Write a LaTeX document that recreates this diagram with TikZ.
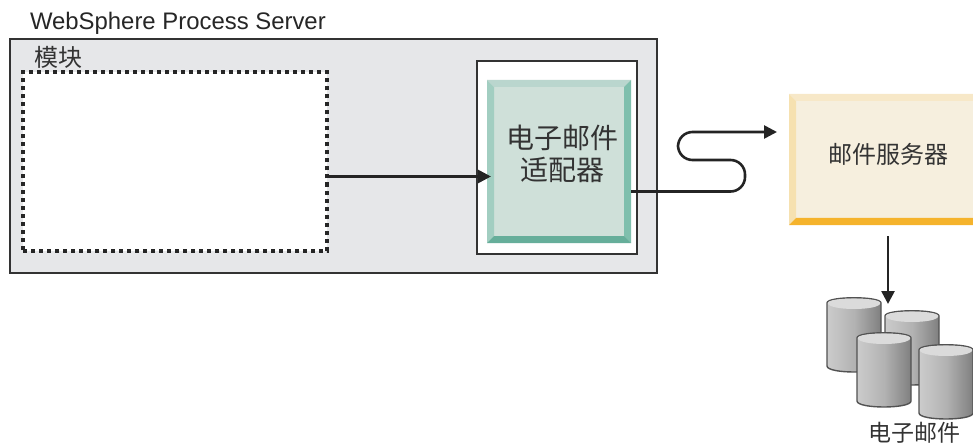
\documentclass[tikz,border=0pt]{standalone}
\usepackage{fontspec}
\setmainfont{Liberation Sans}
\newfontfamily\cjk{Noto Sans CJK SC}
\usetikzlibrary{arrows.meta, positioning}

\definecolor{servergray}{HTML}{E6E7E9}
\definecolor{linegray}{HTML}{333333}
\definecolor{adapterface}{HTML}{CFE0D9}
\definecolor{adaptertop}{HTML}{BAD6CE}
\definecolor{adapterleft}{HTML}{A2CEC1}
\definecolor{adapterright}{HTML}{7FBFAD}
\definecolor{adapterbottom}{HTML}{66AE9A}
\definecolor{mailface}{HTML}{F6EFDE}
\definecolor{mailtop}{HTML}{F7E8C8}
\definecolor{mailleft}{HTML}{F6E1B0}
\definecolor{mailbottom}{HTML}{F5B32C}

% sides of a raised box: node, left, top, right, bottom
\newcommand{\bevelsides}[5]{
	\fill[#2] (#1.north west) -- (#1.south west) -- ([shift={(7,-7)}]#1.south west) -- ([shift={(7,7)}]#1.north west) -- cycle;
	\fill[#3] (#1.north west) -- (#1.north east) -- ([shift={(-7,7)}]#1.north east) -- ([shift={(7,7)}]#1.north west) -- cycle;
	\fill[#4] (#1.north east) -- (#1.south east) -- ([shift={(-7,-7)}]#1.south east) -- ([shift={(-7,7)}]#1.north east) -- cycle;
	\fill[#5] (#1.south west) -- (#1.south east) -- ([shift={(-7,-7)}]#1.south east) -- ([shift={(7,-7)}]#1.south west) -- cycle;
}

\begin{document}
\begin{tikzpicture}[x=1pt, y=-1pt]
	\tikzset{
		>={Triangle[length=13pt, width=13pt]},
		flow/.style={->, line width=2.6pt, draw=linegray!70!black, color=linegray!70!black},
		box/.style={inner sep=0pt, outer sep=0pt},
		cjktext/.style={font=\cjk\fontsize{24pt}{32pt}\selectfont, text=linegray, inner sep=0pt},
		dbcyl/.pic={
			\draw[line width=1.4pt, draw=linegray!85, left color=black!20, right color=black!50, middle color=black!30]
				(-27,5) -- (-27,68) .. controls (-27,76) and (27,76) .. (27,68) -- (27,5)
				.. controls (27,-2) and (-27,-2) .. (-27,5) -- cycle;
			\fill[black!14] (-26.3,5) .. controls (-26,-1) and (26,-1) .. (26.3,5) .. controls (26,13) and (-26,13) .. (-26.3,5) -- cycle;
		}
	}
	\clip (0,0) rectangle (973,446);

	\node[box, draw=linegray, line width=2pt, fill=servergray, minimum width=647pt, minimum height=234pt] (server) at (333.5,156) {};
	\node[above right=5pt and 20pt of server.north west, box, font=\fontsize{23.9pt}{28pt}\selectfont, text=black!85] (title) {WebSphere Process Server};

	\node[box, draw=black!85, line width=4pt, dash pattern=on 4pt off 4pt, fill=white, minimum width=304pt, minimum height=178pt] (module) at (175,161.5) {};
	\node[cjktext] (modulelabel) at (58,57) {模块};

	\node[box, draw=linegray, line width=2pt, fill=white, minimum width=160pt, minimum height=193pt] (frame) at (557,157.5) {};
	\node[box, fill=adapterface, minimum width=144pt, minimum height=163pt] (adapter) at (559,161.5) {};
	\bevelsides{adapter}{adapterleft}{adaptertop}{adapterright}{adapterbottom}
	\node[cjktext, font=\cjk\fontsize{28pt}{32pt}\selectfont, align=center] (adaptertext) at (562,154) {电子邮件\\适配器};

	% runs past the edge of the page, so its right side does not show
	\node[box, fill=mailface, minimum width=198pt, minimum height=131pt] (mail) at (888,159.5) {};
	\bevelsides{mail}{mailleft}{mailtop}{mailface}{mailbottom}
	\node[cjktext] (mailtext) at (888,154) {邮件服务器};

	\coordinate (wavetip) at (777,132);
	\coordinate (dbtop) at (888,304);

	\pic at (854,298) {dbcyl};
	\pic at (912,311) {dbcyl};
	\pic at (884,333) {dbcyl};
	\pic at (946,345) {dbcyl};
	\node[cjktext, font=\cjk\fontsize{23pt}{28pt}\selectfont] (dbtext) at (914,433) {电子邮件};

	\draw[flow, shorten >=-4pt] ([yshift=-15pt]module.east) -- ([yshift=-15pt]adapter.west);
	\draw[flow, rounded corners=14.5pt] ([yshift=-30pt]adapter.east) -- (745,191.5) -- (745,160) -- (678,160) -- (678,132) -- (wavetip);
	\draw[flow, shorten <=11pt] (mail.south) -- (dbtop);
\end{tikzpicture}
\end{document}
